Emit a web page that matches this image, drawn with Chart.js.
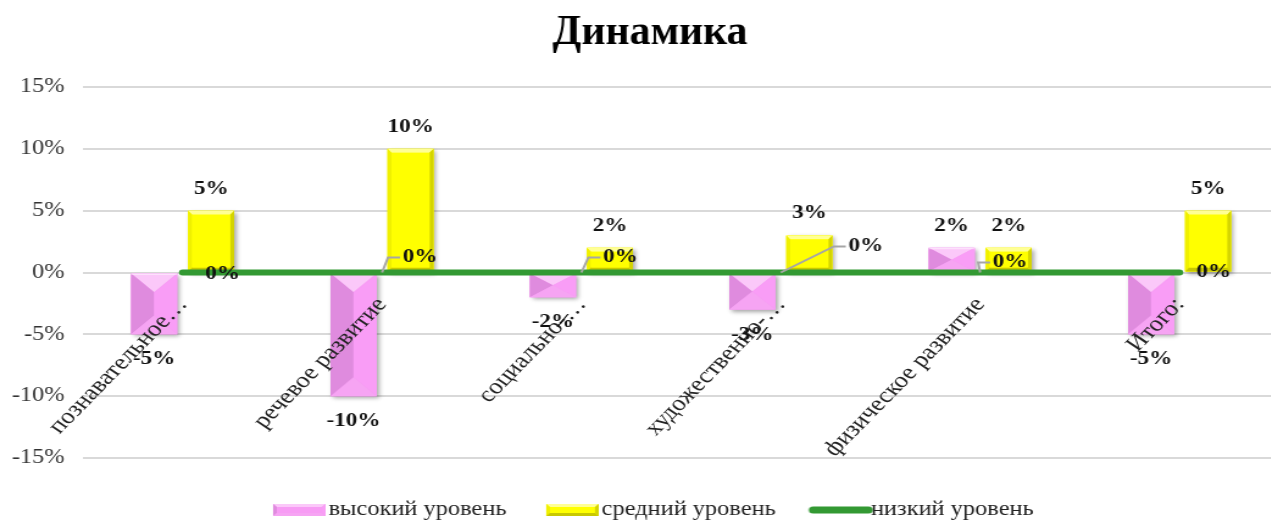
<!DOCTYPE html>
<html><head><meta charset="utf-8">
<script src="https://cdn.jsdelivr.net/npm/chart.js@4.4.1/dist/chart.umd.min.js"></script>
<style>
html,body{margin:0;padding:0;background:#fff;overflow:hidden;width:1271px;height:521px;}
#wrap{position:relative;width:1271px;height:521px;overflow:hidden;}
canvas{display:block;}
</style></head><body>
<div id="wrap"><canvas id="c" width="1066" height="521" style="width:1300px;height:521px"></canvas></div>
<script>
// ---- data ----
const categories = ['познавательное…', 'речевое развитие', 'социально-…', 'художественно-…', 'физическое развитие', 'Итого:'];
const highLevel = [-0.05, -0.10, -0.02, -0.03, 0.02, -0.05];
const midLevel  = [0.05, 0.10, 0.02, 0.03, 0.02, 0.05];
const lowLevel  = [0, 0, 0, 0, 0, 0];
const seriesNames = ['высокий уровень', 'средний уровень', 'низкий уровень'];
const yTickValues = [-0.15, -0.10, -0.05, 0, 0.05, 0.10, 0.15];
const chartTitle = 'Динамика';

// ---- style ----
const SX = 1066 / 1300;           // canvas units per screen px horizontally
const FONT = "'Liberation Serif','Times New Roman',serif";
const pct = v => Math.round(v * 100) + '%';

const bevels = {
  0: {base:'#f79bf4', top:'#fbc8f9', left:'#df8bde', right:'#f99df6', bottom:'#f6a4f3', full:true},
  1: {base:'#ffff00', top:'#ffff94', left:'#f0f000', right:'#d4d400', bottom:'#c8c800', depth:4}
};
// label offsets for the line series (screen px), with leader flag
const lineLabelOffsets = [[40,2,false],[38,-15,true],[39,-15,true],[85,-26,true],[30,-10,true],[34,0,false]];

function poly(ctx, pts, color){
  ctx.beginPath(); ctx.moveTo(pts[0][0], pts[0][1]);
  for (let i=1;i<pts.length;i++) ctx.lineTo(pts[i][0], pts[i][1]);
  ctx.closePath(); ctx.fillStyle = color; ctx.fill();
}

// legend icons (drawn in canvas units)
function makeIcon(kind){
  const cv = document.createElement('canvas');
  cv.height = 14;
  const g = () => cv.getContext('2d');
  if (kind === 'line') {
    cv.width = 57;
    const c = g();
    c.strokeStyle = '#339933'; c.lineWidth = 7; c.lineCap = 'round';
    c.beginPath(); c.moveTo(6, 7); c.lineTo(51.5, 7); c.stroke();
  } else {
    cv.width = 45;
    const c = g();
    const b = bevels[kind];
    const L = 2, R = 45, T = 1, B = 13;
    c.fillStyle = b.base; c.fillRect(L, T, R-L, B-T);
    poly(c, [[L,T],[R,T],[R-3,T+3],[L+3,T+3]], b.top);
    poly(c, [[L,T],[L+3,T+3],[L+3,B-3],[L,B]], b.left);
    poly(c, [[R,T],[R-3,T+3],[R-3,B-3],[R,B]], b.right);
    poly(c, [[L,B],[L+3,B-3],[R-3,B-3],[R,B]], b.bottom);
  }
  return cv;
}
const legendIcons = [makeIcon(0), makeIcon(1), makeIcon('line')];

const decor = {
  id: 'decor',
  afterLayout(chart){
    const lg = chart.legend;
    if (lg){ lg.top += 4; lg.bottom += 4; lg.left += 14; lg.right += 14; }
  },
  beforeDatasetDraw(chart, args){
    const b = bevels[args.index];
    if (!b) return;
    const ctx = chart.ctx;
    ctx.save();
    ctx.shadowColor = 'rgba(0,0,0,0.35)';
    ctx.shadowBlur = 4; ctx.shadowOffsetX = 2; ctx.shadowOffsetY = 2;
    ctx.fillStyle = b.base;
    args.meta.data.forEach(el => {
      const {x, y, base, width} = el.getProps(['x','y','base','width'], true);
      const t = Math.min(y, base), h = Math.abs(base - y);
      ctx.fillRect(x - width/2, t, width, h);
    });
    ctx.restore();
  },
  afterDatasetDraw(chart, args){
    const b = bevels[args.index];
    if (!b) return;
    const ctx = chart.ctx;
    ctx.save();
    args.meta.data.forEach(el => {
      const {x, y, base, width} = el.getProps(['x','y','base','width'], true);
      const L = x - width/2, R = x + width/2, T = Math.min(y, base), B = Math.max(y, base);
      const h = B - T;
      const d = b.full ? Math.min(width/2, h/2) : Math.min(b.depth, h/2);
      const dx = b.full ? width/2 : d * SX;
      const iL = L + dx, iR = R - dx, iT = T + d, iB = B - d;
      poly(ctx, [[L,T],[R,T],[iR,iT],[iL,iT]], b.top);
      poly(ctx, [[L,T],[iL,iT],[iL,iB],[L,B]], b.left);
      poly(ctx, [[R,T],[iR,iT],[iR,iB],[R,B]], b.right);
      poly(ctx, [[L,B],[iL,iB],[iR,iB],[R,B]], b.bottom);
      if (!b.full) { ctx.fillStyle = b.base; ctx.fillRect(iL, iT, iR-iL, iB-iT); }
      else { ctx.fillStyle = 'rgba(255,255,255,0.45)'; ctx.fillRect(L, T, width, 1.5); }
    });
    ctx.restore();
  },
  afterDraw(chart){
    const ctx = chart.ctx;
    ctx.save();
    // data labels
    ctx.font = `bold 19px ${FONT}`;
    ctx.fillStyle = '#111';
    ctx.textAlign = 'center'; ctx.textBaseline = 'middle';
    [0,1].forEach(di => {
      const meta = chart.getDatasetMeta(di);
      const vals = chart.data.datasets[di].data;
      meta.data.forEach((el, i) => {
        const v = vals[i];
        const ly = v >= 0 ? el.y - 22 : el.y + 25;
        ctx.fillText(pct(v), el.x, ly);
      });
    });
    const lm = chart.getDatasetMeta(2);
    const lv = chart.data.datasets[2].data;
    lm.data.forEach((pt, i) => {
      const [ox, oy, leader] = lineLabelOffsets[i];
      const cx = pt.x + ox * SX, cy = pt.y + oy;
      if (leader) {
        const leftEdge = cx - 16 * SX;
        ctx.beginPath();
        ctx.strokeStyle = '#a6a6a6'; ctx.lineWidth = 2;
        ctx.moveTo(pt.x, pt.y);
        ctx.lineTo(leftEdge - 16 * SX, cy);
        ctx.lineTo(leftEdge - 4 * SX, cy);
        ctx.stroke();
      }
      ctx.fillStyle = '#111';
      ctx.fillText(pct(lv[i]), cx, cy);
    });
    // title
    ctx.font = `bold 42px ${FONT}`;
    const w = ctx.measureText(chartTitle).width;
    ctx.translate(650 * SX, 44);
    ctx.scale((195 * SX) / w, 1);
    ctx.textAlign = 'center'; ctx.textBaseline = 'alphabetic';
    ctx.fillStyle = '#000';
    ctx.fillText(chartTitle, 0, 0);
    ctx.restore();
  }
};

new Chart(document.getElementById('c'), {
  type: 'bar',
  data: {
    labels: categories,
    datasets: [
      {label: seriesNames[0], data: highLevel, backgroundColor: '#f79bf4', borderWidth: 0, order: 1,
       categoryPercentage: 0.572, barPercentage: 0.807},
      {label: seriesNames[1], data: midLevel, backgroundColor: '#ffff00', borderWidth: 0, order: 1,
       categoryPercentage: 0.572, barPercentage: 0.807},
      {type: 'line', label: seriesNames[2], data: lowLevel, borderColor: '#339933', backgroundColor: '#339933',
       borderWidth: 6, borderCapStyle: 'round', pointRadius: 0, pointHoverRadius: 0, fill: false, order: 0}
    ]
  },
  options: {
    responsive: false,
    animation: false,
    devicePixelRatio: 1,
    layout: {padding: {top: 87, left: 0, right: 17, bottom: -5}},
    plugins: {
      title: {display: false},
      tooltip: {enabled: false},
      legend: {
        position: 'bottom',
        labels: {
          font: {family: FONT, size: 20}, color: '#222',
          usePointStyle: true, pointStyleWidth: 30, boxHeight: 14, padding: 38,
          generateLabels(chart){
            return chart.data.datasets.map((ds, i) => ({
              text: ds.label, fillStyle: 'transparent', strokeStyle: 'transparent', lineWidth: 0,
              pointStyle: legendIcons[i], hidden: false, datasetIndex: i, fontColor: '#222'
            }));
          }
        }
      }
    },
    scales: {
      x: {
        position: {y: 0},
        grid: {display: false, drawTicks: false},
        border: {display: false},
        ticks: {autoSkip: false, minRotation: 51, maxRotation: 51, padding: 20, z: 1,
                font: {family: FONT, size: 22}, color: '#222'},
        afterFit(s){ s.paddingLeft = 0; s.paddingRight = 0; }
      },
      y: {
        min: -0.15, max: 0.15,
        afterBuildTicks(s){ s.ticks = yTickValues.map(v => ({value: v})); },
        afterFit(s){ s.width = 68; s.paddingTop = 0; s.paddingBottom = 0; },
        grid: {color: '#d9d9d9', lineWidth: 2, drawTicks: false},
        border: {display: false},
        ticks: {padding: 15, font: {family: FONT, size: 20}, color: '#333', callback: v => pct(v)}
      }
    }
  },
  plugins: [decor]
});
</script>
</body></html>
